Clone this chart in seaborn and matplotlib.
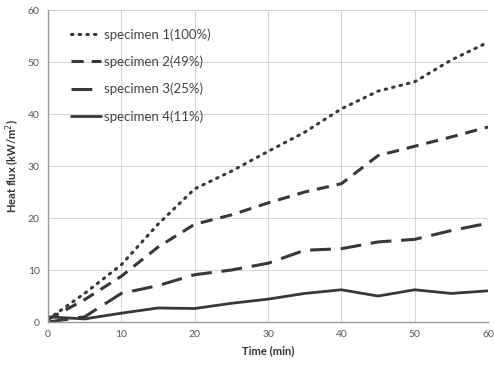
import matplotlib
matplotlib.use("Agg")
import matplotlib.pyplot as plt
import seaborn as sns
import pandas as pd

time_min = [0, 5, 10, 15, 20, 25, 30, 35, 40, 45, 50, 55, 60]
specimen1 = [0.5, 5.5, 11.0, 18.8, 25.6, 29.0, 32.8, 36.5, 41.0, 44.4, 46.2, 50.4, 53.8]
specimen2 = [0.5, 4.3, 8.8, 14.4, 18.8, 20.6, 22.9, 25.0, 26.6, 32.0, 33.8, 35.6, 37.5]
specimen3 = [0.0, 1.0, 5.5, 7.0, 9.1, 10.0, 11.3, 13.8, 14.1, 15.4, 15.9, 17.6, 19.0]
specimen4 = [1.0, 0.6, 1.7, 2.7, 2.6, 3.6, 4.4, 5.5, 6.2, 5.0, 6.2, 5.5, 6.0]
labels = ["specimen 1(100%)", "specimen 2(49%)", "specimen 3(25%)", "specimen 4(11%)"]

series = [specimen1, specimen2, specimen3, specimen4]
df = pd.concat([pd.DataFrame({"time": time_min, "flux": s, "specimen": lab})
                for s, lab in zip(series, labels)], ignore_index=True)

sns.set_theme(style="whitegrid")
plt.rcParams['font.family'] = ['Lato', 'DejaVu Sans']

fig = plt.figure(figsize=(4.94, 3.71), dpi=100)
ax = fig.add_axes([0.097, 0.132, 0.891, 0.841])

styles = {
    labels[0]: dict(linestyle=(0, (0.5, 2.0)), linewidth=2.2, dash_capstyle="round"),
    labels[1]: dict(linestyle=(0, (4.0, 2.6)), linewidth=2.2),
    labels[2]: dict(linestyle=(0, (6.8, 3.2)), linewidth=2.2),
    labels[3]: dict(linestyle="-", linewidth=2.0),
}
color = "#383838"
for lab in labels:
    sub = df[df["specimen"] == lab]
    sns.lineplot(data=sub, x="time", y="flux", ax=ax, color=color, label=lab,
                 **styles[lab])

ax.set_xlim(0, 60)
ax.set_ylim(0, 60)
ax.set_xticks(range(0, 61, 10))
ax.set_yticks(range(0, 61, 10))
ax.grid(True, color="#d4d4d4", linewidth=0.7)
ax.tick_params(axis="both", labelsize=7.5, colors="#555555", length=3, pad=3)
for s in ["top", "right"]:
    ax.spines[s].set_visible(False)
for s in ["left", "bottom"]:
    ax.spines[s].set_color("#9a9a9a")
    ax.spines[s].set_linewidth(1.0)

ax.set_xlabel("Time (min)", fontsize=8, fontweight="bold", color="#333333", labelpad=4)
ax.set_ylabel("Heat flux (kW/m$^2$)", fontsize=8, fontweight="bold", color="#333333", labelpad=4)

leg = ax.legend(loc="upper left", frameon=False, fontsize=9.5, handlelength=2.3,
                labelspacing=1.12, handletextpad=0.2, bbox_to_anchor=(0.025, 0.98),
                labelcolor="#444444")

fig.savefig("out.png", dpi=100, facecolor="white")
